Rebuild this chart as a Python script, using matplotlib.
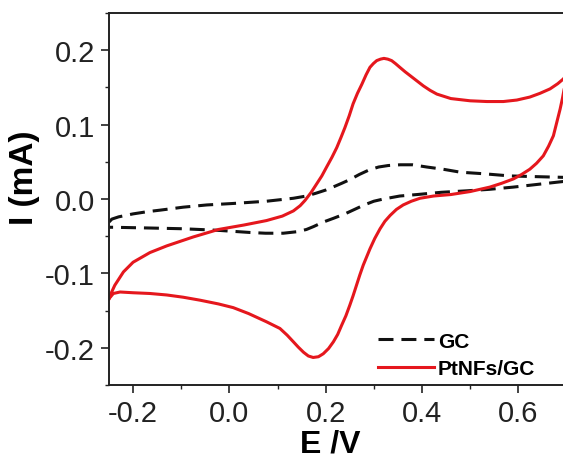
import matplotlib
matplotlib.use("Agg")
import matplotlib.pyplot as plt
from matplotlib.ticker import MultipleLocator

plt.rcParams['font.family'] = ['Liberation Sans', 'DejaVu Sans']

# PtNFs/GC cyclic voltammogram (E in V, I in mA): forward scan then reverse scan
pt_E = [-0.250, -0.248, -0.238, -0.229, -0.220, -0.200, -0.165, -0.130, -0.075, -0.023,
        0.030, 0.077, 0.110, 0.133, 0.147, 0.157, 0.170, 0.181, 0.192, 0.202,
        0.213, 0.223, 0.232, 0.240, 0.249, 0.257, 0.266, 0.275, 0.284, 0.292,
        0.299, 0.306, 0.314, 0.321, 0.329, 0.337, 0.345, 0.354, 0.365, 0.375,
        0.389, 0.403, 0.417, 0.431, 0.460, 0.500, 0.535, 0.569, 0.597, 0.624,
        0.645, 0.666, 0.682, 0.693, 0.700,
        0.696, 0.692, 0.687, 0.680, 0.673, 0.663, 0.652, 0.638, 0.624, 0.607,
        0.590, 0.565, 0.541, 0.500, 0.460, 0.424, 0.396, 0.378, 0.361, 0.347,
        0.334, 0.323, 0.313, 0.302, 0.292, 0.285, 0.278, 0.271, 0.264, 0.257,
        0.250, 0.242, 0.233, 0.225, 0.216, 0.206, 0.195, 0.185, 0.174, 0.164,
        0.154, 0.143, 0.133, 0.120, 0.105, 0.077, 0.040, 0.008, -0.023, -0.061,
        -0.096, -0.130, -0.165, -0.200, -0.227, -0.241, -0.250]
pt_I = [-0.134, -0.130, -0.116, -0.107, -0.098, -0.085, -0.072, -0.063, -0.051, -0.041,
        -0.035, -0.029, -0.023, -0.016, -0.009, -0.002, 0.009, 0.020, 0.031, 0.043,
        0.056, 0.069, 0.083, 0.096, 0.112, 0.128, 0.142, 0.154, 0.167, 0.177,
        0.182, 0.186, 0.188, 0.189, 0.188, 0.186, 0.182, 0.177, 0.171, 0.166,
        0.159, 0.152, 0.146, 0.141, 0.135, 0.132, 0.131, 0.131, 0.133, 0.137,
        0.142, 0.148, 0.155, 0.161, 0.166,
        0.150, 0.136, 0.121, 0.103, 0.085, 0.071, 0.058, 0.048, 0.040, 0.033,
        0.027, 0.021, 0.016, 0.010, 0.006, 0.004, 0.001, -0.003, -0.008, -0.014,
        -0.022, -0.030, -0.040, -0.053, -0.067, -0.078, -0.089, -0.102, -0.116, -0.130,
        -0.143, -0.157, -0.170, -0.182, -0.192, -0.201, -0.208, -0.212, -0.213, -0.211,
        -0.206, -0.199, -0.192, -0.183, -0.174, -0.165, -0.154, -0.146, -0.141, -0.136,
        -0.132, -0.129, -0.127, -0.126, -0.125, -0.127, -0.134]

# bare GC cyclic voltammogram
gc_E = [-0.250, -0.244, -0.230, -0.200, -0.170, -0.144, -0.096, -0.047, 0.008, 0.077,
        0.133, 0.160, 0.181, 0.200, 0.215, 0.233, 0.250, 0.270, 0.290, 0.310,
        0.330, 0.355, 0.380, 0.410, 0.444, 0.480, 0.527, 0.583, 0.640, 0.700,
        0.700, 0.645, 0.590, 0.540, 0.493, 0.440, 0.390, 0.354, 0.320, 0.300,
        0.280, 0.260, 0.240, 0.216, 0.195, 0.175, 0.160, 0.140, 0.112, 0.075,
        0.043, -0.026, -0.096, -0.165, -0.241, -0.250]
gc_I = [-0.031, -0.027, -0.024, -0.020, -0.017, -0.015, -0.011, -0.008, -0.006, -0.003,
        0.001, 0.004, 0.008, 0.012, 0.016, 0.021, 0.026, 0.033, 0.039, 0.043,
        0.045, 0.046, 0.046, 0.043, 0.040, 0.036, 0.034, 0.031, 0.030, 0.029,
        0.024, 0.020, 0.016, 0.013, 0.011, 0.009, 0.006, 0.004, 0.000, -0.003,
        -0.008, -0.014, -0.020, -0.026, -0.031, -0.037, -0.041, -0.044, -0.046, -0.046,
        -0.045, -0.042, -0.040, -0.039, -0.038, -0.038]

x_ticks = [-0.2, 0.0, 0.2, 0.4, 0.6]
y_ticks = [-0.2, -0.1, 0.0, 0.1, 0.2]

fig = plt.figure(figsize=(5.63, 4.60), dpi=100)
ax = fig.add_axes([109/563, 1-386/460, 457.4/563, 372/460])

ax.plot(gc_E, gc_I, color='#111111', lw=2.2, linestyle=(0, (4.9, 2.6)),
        solid_joinstyle='round', label='GC')
ax.plot(pt_E, pt_I, color='#e5171d', lw=2.2, solid_joinstyle='round', label='PtNFs/GC')

ax.set_xlim(-0.25, 0.70)
ax.set_ylim(-0.25, 0.25)
ax.set_xticks(x_ticks)
ax.set_yticks(y_ticks)
ax.set_xticklabels([f"{v:.1f}" for v in x_ticks])
ax.set_yticklabels([f"{v:.1f}" for v in y_ticks])
ax.xaxis.set_minor_locator(MultipleLocator(0.1))
ax.yaxis.set_minor_locator(MultipleLocator(0.05))
ax.tick_params(which='major', direction='out', length=6, width=1.2, labelsize=21, pad=4,
               colors='#222222')
ax.tick_params(which='minor', direction='out', length=3, width=1.0, colors='#222222')
for s in ax.spines.values():
    s.set_linewidth(1.4)
    s.set_color('#222222')

ax.set_xlabel('E /V', fontsize=23, fontweight='bold')
ax.set_ylabel('I (mA)', fontsize=24, fontweight='bold')
ax.xaxis.set_label_coords(0.483, -0.118)
ax.yaxis.set_label_coords(-0.15, 0.56)

leg = ax.legend(loc='lower left', bbox_to_anchor=(0.56, -0.015), frameon=False,
                prop={'weight': 'bold', 'size': 15}, handlelength=2.7,
                handletextpad=0.2, labelspacing=0.4, borderaxespad=0.2)

fig.savefig('out.png', dpi=100)
